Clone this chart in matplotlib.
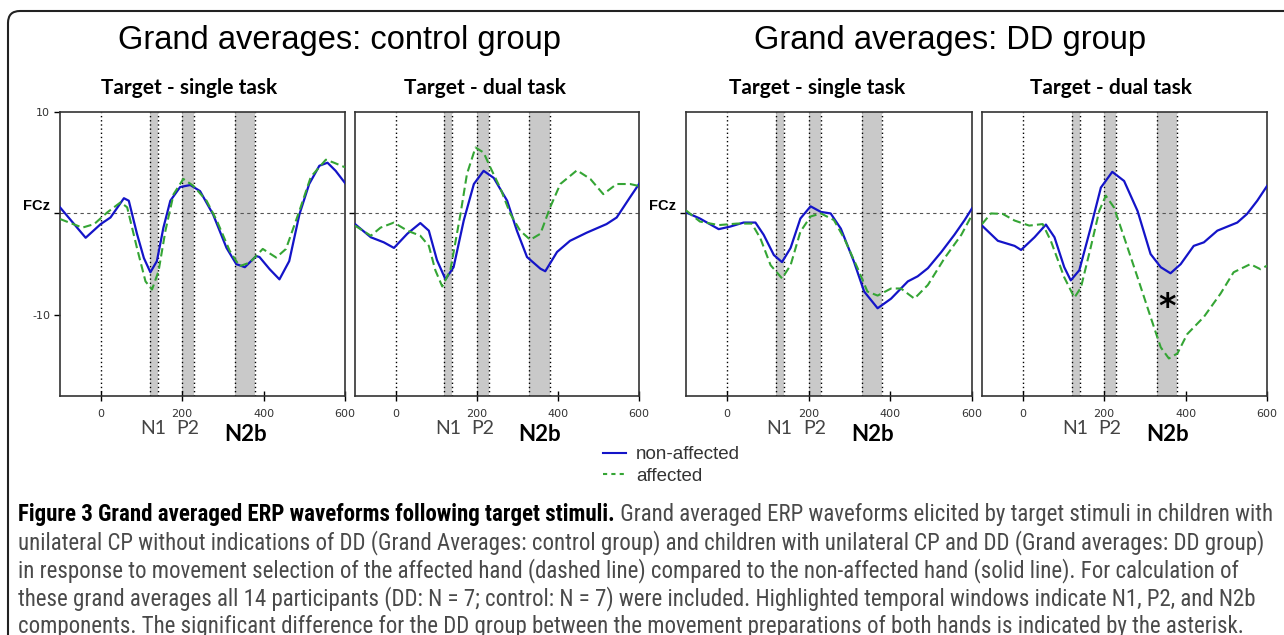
import matplotlib
matplotlib.use("Agg")
import matplotlib.pyplot as plt
import matplotlib.transforms as mtransforms
from matplotlib import font_manager
from matplotlib.patches import FancyBboxPatch
from matplotlib.lines import Line2D

# ---- data (time in ms, amplitude in uV) ----
windows = [(120, 140), (200, 230), (330, 380)]   # N1, P2, N2b
comp_names = ["N1", "P2", "N2b"]

# control group, single task
c_single_t_na = [-100, -37, 0, 24, 57, 69, 89, 106, 122, 138, 154, 171, 195, 220, 244,
                 276, 309, 333, 354, 382, 390, 415, 439, 463, 488, 512, 537, 557, 577, 600]
c_single_na = [0.6, -2.4, -1.05, -0.4, 1.5, 1.25, -2.0, -4.4, -5.8, -4.7, -1.4, 1.25, 2.6, 2.8, 2.2,
               -0.1, -3.4, -5.0, -5.3, -4.2, -4.3, -5.5, -6.5, -4.7, -0.1, 2.9, 4.7, 5.0, 4.2, 3.0]
c_single_t_a = [-100, -45, -16, 16, 49, 65, 89, 110, 126, 142, 159, 179, 203, 228, 260,
                285, 317, 341, 366, 398, 431, 455, 488, 516, 553, 573, 600]
c_single_a = [-0.55, -1.4, -1.05, 0.1, 1.1, 0.6, -3.4, -6.7, -7.5, -5.7, -1.7, 1.9, 3.4, 2.7, 1.25,
              -0.7, -3.7, -5.2, -4.85, -3.5, -4.35, -3.5, 0.25, 3.6, 5.3, 5.0, 4.55]

# control group, dual task
c_dual_t_na = [-100, -61, -29, -4, 29, 61, 82, 102, 123, 143, 168, 193, 217, 242, 275,
               299, 324, 357, 369, 398, 430, 471, 520, 545, 578, 600]
c_dual_na = [-1.05, -2.35, -2.85, -3.4, -2.0, -0.95, -1.7, -4.6, -6.5, -5.3, -0.7, 2.9, 4.2, 3.5, 1.25,
             -1.7, -4.3, -5.45, -5.7, -3.8, -2.7, -1.9, -1.05, -0.4, 1.6, 2.9]
c_dual_t_a = [-100, -61, -37, -4, 29, 61, 82, 98, 115, 135, 160, 176, 197, 217, 234,
              258, 283, 307, 332, 357, 381, 406, 447, 480, 512, 545, 578, 600]
c_dual_a = [-1.2, -2.2, -1.4, -0.9, -1.7, -2.2, -3.2, -5.6, -7.2, -5.6, -0.05, 3.9, 6.5, 6.0, 4.5,
            2.5, -0.05, -1.7, -2.6, -2.0, 0.6, 2.9, 4.25, 3.4, 1.9, 2.9, 2.9, 2.7]

# DD group, single task
d_single_t_na = [-100, -66, -20, 8, 41, 70, 90, 115, 135, 156, 180, 205, 230, 254, 279,
                 311, 336, 369, 402, 443, 467, 492, 525, 557, 582, 600]
d_single_na = [0.1, -0.5, -1.55, -1.3, -0.9, -0.9, -2.1, -4.1, -4.8, -3.4, -0.5, 0.7, 0.15, 0.0, -1.5,
               -4.75, -7.7, -9.35, -8.4, -6.7, -6.2, -5.4, -3.8, -2.1, -0.65, 0.5]
d_single_t_a = [-100, -66, -20, 25, 61, 82, 107, 135, 156, 180, 205, 230, 262, 287, 320,
                344, 369, 402, 426, 459, 492, 533, 574, 600]
d_single_a = [0.3, -0.8, -1.15, -1.0, -1.0, -2.45, -5.1, -6.4, -5.1, -1.8, -0.3, 0.0, -0.65, -2.45, -5.4,
              -7.7, -8.1, -7.4, -7.4, -8.4, -7.05, -4.4, -2.1, -0.15]

# DD group, dual task
d_dual_t_na = [-100, -61, -20, -4, 29, 57, 78, 102, 118, 139, 167, 192, 220, 249, 282,
               314, 339, 363, 388, 420, 445, 478, 527, 551, 576, 600]
d_dual_na = [-1.2, -2.7, -3.2, -3.6, -2.35, -1.1, -2.35, -5.3, -6.6, -5.6, -1.4, 2.55, 4.1, 3.2, 0.25,
             -4.0, -5.3, -5.9, -5.0, -3.2, -2.85, -1.7, -0.9, -0.05, 1.25, 2.7]
d_dual_t_a = [-100, -78, -49, -20, 16, 49, 69, 102, 127, 143, 167, 188, 204, 224, 249,
              282, 314, 339, 359, 380, 404, 445, 486, 518, 559, 584, 600]
d_dual_a = [-1.05, 0.0, -0.05, -0.7, -1.2, -1.05, -2.7, -6.3, -8.3, -7.3, -3.35, 0.25, 1.75, 0.6, -2.35,
            -6.3, -10.2, -13.2, -14.3, -13.8, -11.9, -10.2, -7.9, -5.8, -5.0, -5.5, -5.15]

star_pos = (355, -9.3)

group_titles = ["Grand averages: control group", "Grand averages: DD group"]
panel_titles = ["Target - single task", "Target - dual task", "Target - single task", "Target - dual task"]
legend_labels = ["non-affected", "affected"]

caption_bold = "Figure 3 Grand averaged ERP waveforms following target stimuli."
caption_lines = [
    " Grand averaged ERP waveforms elicited by target stimuli in children with",
    "unilateral CP without indications of DD (Grand Averages: control group) and children with unilateral CP and DD (Grand averages: DD group)",
    "in response to movement selection of the affected hand (dashed line) compared to the non-affected hand (solid line). For calculation of",
    "these grand averages all 14 participants (DD: N = 7; control: N = 7) were included. Highlighted temporal windows indicate N1, P2, and N2b",
    "components. The significant difference for the DD group between the movement preparations of both hands is indicated by the asterisk.",
]

# ---- layout ----
W, H = 1284, 635
fig = plt.figure(figsize=(W / 100, H / 100), dpi=100)
fig.patch.set_facecolor("white")

installed = {f.name for f in font_manager.fontManager.ttflist}
cap_font = next((n for n in ["Roboto Condensed", "Liberation Sans Narrow", "Open Sans Condensed", "Lato"]
                 if n in installed), "DejaVu Sans")

BLUE = "#1414c8"
GREEN = "#35a535"
SHADE = "#c9c9c9"


def px_box(x0, x1, y0, y1):
    return [x0 / W, 1 - y1 / H, (x1 - x0) / W, (y1 - y0) / H]


boxes = [(60, 345), (355, 639), (686, 972), (982, 1267)]
series = [
    (c_single_t_na, c_single_na, c_single_t_a, c_single_a),
    (c_dual_t_na, c_dual_na, c_dual_t_a, c_dual_a),
    (d_single_t_na, d_single_na, d_single_t_a, d_single_a),
    (d_dual_t_na, d_dual_na, d_dual_t_a, d_dual_a),
]
title_x = [189, 485, 817, 1111]

axes = []
for i, ((x0, x1), (t_na, v_na, t_a, v_a)) in enumerate(zip(boxes, series)):
    ax = fig.add_axes(px_box(x0, x1, 112, 396))
    axes.append(ax)
    for lo, hi in windows:
        ax.axvspan(lo, hi, color=SHADE, lw=0, zorder=0)
        for edge in (lo, hi):
            ax.axvline(edge, color="k", ls=(0, (1, 2)), lw=1.0, zorder=1)
    ax.axvline(0, color="k", ls=(0, (1, 2)), lw=1.0, zorder=1)
    ax.axhline(0, color="#555555", ls=(0, (3, 3)), lw=0.8, zorder=1)
    ax.plot(t_na, v_na, color=BLUE, lw=1.6, zorder=3, solid_joinstyle="round")
    ax.plot(t_a, v_a, color=GREEN, lw=1.5, ls=(0, (4, 2)), zorder=3)
    ax.set_xlim(-100, 600)
    ax.set_ylim(-18, 10)
    ax.set_xticks([0, 200, 400, 600])
    ax.tick_params(axis="x", direction="inout", length=7, width=1, pad=6,
                   labelsize=8, labelcolor="#333333")
    ax.tick_params(axis="y", direction="out", length=4, width=1, pad=3,
                   labelsize=8, labelcolor="#333333")
    if i == 0:
        ax.set_yticks([10, 0, -10])
        ax.set_yticklabels(["10", "", "-10"])
    else:
        ax.set_yticks([0])
        ax.set_yticklabels([""])
    for s in ax.spines.values():
        s.set_linewidth(1.2)
        s.set_color("#333333")
    if i in (0, 2):
        ax.text(-0.035, 0.3, "FCz", transform=ax.get_yaxis_transform(), ha="right", va="baseline",
                fontsize=10.5, weight="bold", family="Liberation Sans")
    tr = mtransforms.blended_transform_factory(ax.transData, ax.transAxes)
    ax.text(129, -0.113, "N1", transform=tr, ha="center", va="center", fontsize=14,
            family="Lato", color="#444444")
    ax.text(214, -0.113, "P2", transform=tr, ha="center", va="center", fontsize=14,
            family="Lato", color="#444444")
    ax.text(356, -0.135, "N2b", transform=tr, ha="center", va="center", fontsize=16,
            family="Lato", weight="bold", color="black")
    fig.text(title_x[i] / W, 1 - 88 / H, panel_titles[i], ha="center", va="center",
             fontsize=15, family="Lato", weight="bold")

axes[3].text(star_pos[0], star_pos[1], "*", ha="center", va="center", fontsize=24,
             weight="bold", family="DejaVu Sans")

fig.text(339 / W, 1 - 41 / H, group_titles[0], ha="center", va="center", fontsize=23.5,
         family="Liberation Sans")
fig.text(950 / W, 1 - 41 / H, group_titles[1], ha="center", va="center", fontsize=23.5,
         family="Liberation Sans")

handles = [Line2D([], [], color=BLUE, lw=1.5),
           Line2D([], [], color=GREEN, lw=1.5, ls=(0, (2, 2)))]
fig.legend(handles, legend_labels, loc="upper left", bbox_to_anchor=(603 / W, 1 - 446 / H),
           frameon=False, handlelength=1.2, handletextpad=0.55, labelspacing=0.25,
           borderpad=0, borderaxespad=0, labelcolor="#333333",
           prop={"family": "Liberation Sans", "size": 13.5})

# outer frame, rounded top-left corner
frame = FancyBboxPatch((8, -60), 1400, (H - 11) + 60, boxstyle="round,pad=0,rounding_size=12",
                       transform=mtransforms.IdentityTransform(), fill=False, ec="#222222", lw=1.5)
fig.add_artist(frame)

# caption, fitted to the width of the original text block
renderer = fig.canvas.get_renderer()
probe = fig.text(0, 0, caption_lines[1], fontsize=10, family=cap_font)
w10 = probe.get_window_extent(renderer).width
probe.remove()
cap_size = 10 * (1262 - 18) / w10

cap_y = [515, 543, 571, 599, 626]
x0 = 18
tb = fig.text(x0 / W, 1 - cap_y[0] / H, caption_bold, fontsize=cap_size, family=cap_font,
              weight="bold", va="center", color="black")
wb = tb.get_window_extent(renderer).width
fig.text((x0 + wb) / W, 1 - cap_y[0] / H, caption_lines[0], fontsize=cap_size, family=cap_font,
         va="center", color="#4a4a4a")
for line, y in zip(caption_lines[1:], cap_y[1:]):
    fig.text(x0 / W, 1 - y / H, line, fontsize=cap_size, family=cap_font, va="center", color="#4a4a4a")

fig.savefig("out.png", dpi=100)
